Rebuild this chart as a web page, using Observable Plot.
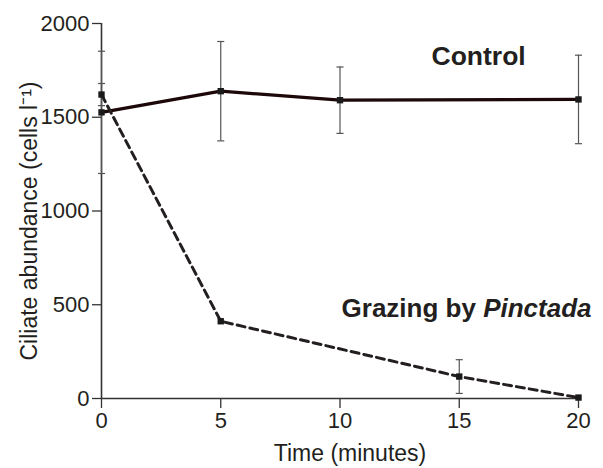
<!DOCTYPE html>
<html><head><meta charset="utf-8">
<script src="https://cdn.jsdelivr.net/npm/d3@7"></script>
<script src="https://cdn.jsdelivr.net/npm/@observablehq/plot@0.6"></script>
<style>body{margin:0;background:#fff}</style>
</head><body><div id="chart"></div>
<script>
// ---- data ----
const controlTimes = [0, 5, 10, 20];
const controlMean  = [1526, 1639, 1591, 1595];
const controlErr   = [326, 265, 177, 236];

const grazingTimes = [0, 5, 15, 20];
const grazingMean  = [1621, 412, 117, 5];
const grazingErr   = [59, 0, 90, 0];

const xTicks = [0, 5, 10, 15, 20];
const yTicks = [0, 500, 1000, 1500, 2000];

const xLabel = "Time (minutes)";
const yLabel = "Ciliate abundance (cells l\u207B\u00B9)";
const controlLabel = "Control";
const grazingLabel = "Grazing by Pinctada";
const grazingItalic = "Pinctada";

// ---- tables ----
const control = controlTimes.map((t, i) => ({t, v: controlMean[i], e: controlErr[i]}));
const grazing = grazingTimes.map((t, i) => ({t, v: grazingMean[i], e: grazingErr[i]}));
const errs = [...control, ...grazing].filter(d => d.e > 0);
const caps = errs.flatMap(d => [{t: d.t, v: d.v - d.e}, {t: d.t, v: d.v + d.e}]);

const capSymbol = {
  draw(ctx, size) {
    const w = Math.sqrt(size) / 2;
    ctx.moveTo(-w, 0);
    ctx.lineTo(w, 0);
  }
};

const ink = "#231f20";
const font = "'Liberation Sans', Arial, Helvetica, sans-serif";

const chart = Plot.plot({
  width: 603,
  height: 468,
  marginLeft: 101,
  marginRight: 25,
  marginTop: 23,
  marginBottom: 70,
  style: {fontFamily: font, fontSize: "22px", color: ink, background: "#fff"},
  x: {domain: [0, 20]},
  y: {domain: [0, 2000]},
  marks: [
    Plot.axisX({ticks: xTicks, tickFormat: d => String(d), tickSize: 10, tickPadding: 4, fontSize: 22, label: null, stroke: "#333", strokeWidth: 1.3, fill: ink}),
    Plot.axisY({ticks: yTicks, tickFormat: d => String(d), tickSize: 9, tickPadding: 3, fontSize: 22, label: null, stroke: "#333", strokeWidth: 1.3, fill: ink}),
    Plot.ruleX([0], {stroke: "#333", strokeWidth: 1.6}),
    Plot.ruleY([0], {stroke: "#333", strokeWidth: 1.6}),
    Plot.ruleX(errs, {x: "t", y1: d => d.v - d.e, y2: d => d.v + d.e, stroke: "#555", strokeWidth: 1.2}),
    Plot.dot(caps, {x: "t", y: "v", symbol: capSymbol, r: 4, stroke: "#555", strokeWidth: 1.2, fill: "none"}),
    Plot.line(control, {x: "t", y: "v", stroke: "#1c0808", strokeWidth: 3.2}),
    Plot.line(grazing, {x: "t", y: "v", stroke: "#231f20", strokeWidth: 3, strokeDasharray: "8,5"}),
    Plot.dot(control, {x: "t", y: "v", symbol: "square", r: 3.6, fill: "#1a1a1a", stroke: "none"}),
    Plot.dot(grazing, {x: "t", y: "v", symbol: "square", r: 3.6, fill: "#1a1a1a", stroke: "none"}),
    Plot.text([controlLabel], {text: d => d, frameAnchor: "top-left", textAnchor: "start", lineAnchor: "middle", dx: 330, dy: 33.5, fontSize: 26.5, fontWeight: "bold", fill: ink}),
    Plot.text([grazingLabel], {text: d => d, frameAnchor: "top-left", textAnchor: "end", lineAnchor: "middle", dx: 490, dy: 285.5, fontSize: 26, fontWeight: "bold", fill: ink}),
    Plot.text([xLabel], {text: d => d, frameAnchor: "bottom", textAnchor: "middle", lineAnchor: "middle", dx: 10, dy: 55, fontSize: 23, fill: ink}),
    Plot.text([yLabel], {text: d => d, frameAnchor: "left", textAnchor: "middle", lineAnchor: "middle", rotate: -90, dx: -72, dy: 10, fontSize: 23, fill: ink})
  ]
});

// italicise the genus name inside the annotation (kept as real text)
chart.querySelectorAll("text").forEach(t => {
  if (t.textContent === grazingLabel) {
    const head = grazingLabel.slice(0, grazingLabel.indexOf(grazingItalic));
    t.textContent = "";
    const a = document.createElementNS("http://www.w3.org/2000/svg", "tspan");
    a.textContent = head;
    const b = document.createElementNS("http://www.w3.org/2000/svg", "tspan");
    b.textContent = grazingItalic;
    b.setAttribute("font-style", "italic");
    t.appendChild(a); t.appendChild(b);
  }
});

document.getElementById("chart").appendChild(chart);
</script>
</body></html>
